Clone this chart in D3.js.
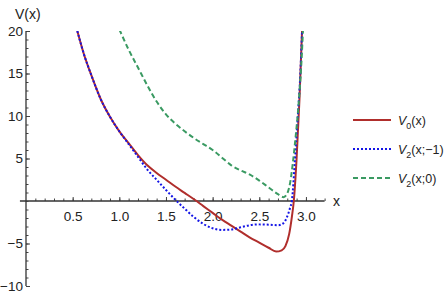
<!DOCTYPE html>
<html>
<head>
<meta charset="utf-8">
<script src="https://cdnjs.cloudflare.com/ajax/libs/d3/7.8.5/d3.min.js"></script>
<style>
body { margin: 0; background: #fff; }
text { font-family: "Liberation Sans", Arial, sans-serif; fill: #222; }
</style>
</head>
<body>
<script>
var w = 447;
var h = 300;

// data
var xV0 = [0.55, 0.62, 0.70, 0.80, 0.90, 1.00, 1.10, 1.20, 1.30, 1.40, 1.50, 1.60, 1.70, 1.80, 1.90, 2.00, 2.10, 2.20, 2.30, 2.40, 2.50, 2.60, 2.68, 2.74, 2.78, 2.82, 2.85, 2.87, 2.90, 2.93, 2.96];
var yV0 = [20.0, 17.3, 14.8, 12.0, 9.9, 8.2, 6.8, 5.4, 4.2, 3.3, 2.5, 1.7, 0.95, 0.2, -0.6, -1.4, -2.2, -2.9, -3.6, -4.3, -4.9, -5.5, -5.95, -5.8, -5.3, -3.9, -1.8, 0.0, 5.0, 11.8, 20.5];

var xV2m = [0.55, 0.62, 0.70, 0.80, 0.90, 1.00, 1.10, 1.20, 1.30, 1.40, 1.50, 1.60, 1.70, 1.80, 1.90, 2.00, 2.10, 2.20, 2.30, 2.40, 2.50, 2.60, 2.70, 2.76, 2.80, 2.83, 2.85, 2.88, 2.91, 2.94, 2.96];
var yV2m = [20.0, 17.3, 14.8, 12.0, 9.9, 8.2, 6.7, 5.2, 3.7, 2.5, 1.3, 0.15, -0.9, -1.9, -2.7, -3.2, -3.4, -3.35, -3.1, -2.85, -2.75, -2.78, -2.85, -2.6, -1.8, -0.8, 0.1, 4.5, 9.5, 15.0, 20.5];

var xV20 = [1.00, 1.10, 1.20, 1.30, 1.40, 1.50, 1.60, 1.70, 1.80, 1.90, 2.00, 2.10, 2.20, 2.30, 2.40, 2.50, 2.60, 2.70, 2.76, 2.80, 2.83, 2.86, 2.89, 2.92, 2.95, 2.97];
var yV20 = [20.2, 17.8, 15.7, 13.6, 11.7, 10.2, 9.1, 8.2, 7.4, 6.7, 6.0, 5.1, 4.2, 3.6, 3.1, 2.4, 1.6, 0.8, 0.45, 0.9, 2.1, 4.5, 7.6, 11.2, 16.0, 20.5];

var xTicks = [0.5, 1.0, 1.5, 2.0, 2.5, 3.0];
var yTicks = [-10, -5, 5, 10, 15, 20];

var series = [
    {name: "0", arg: "(x)", xs: xV0, ys: yV0, color: "#b02e2c", dash: null},
    {name: "2", arg: "(x;\u22121)", xs: xV2m, ys: yV2m, color: "#1414e6", dash: "2,2"},
    {name: "2", arg: "(x;0)", xs: xV20, ys: yV20, color: "#3a9a62", dash: "5,3"}
];

var x = d3.scaleLinear().domain([0, 3.2]).range([26, 324.6]);
var y = d3.scaleLinear().domain([-10, 20]).range([286, 31]);

var svg = d3.select("body")
    .append("svg")
    .attr("width", w)
    .attr("height", h);

svg.append("defs").append("clipPath")
    .attr("id", "clip")
    .append("rect")
    .attr("x", x(0))
    .attr("y", y(20))
    .attr("width", x(3.2) - x(0))
    .attr("height", y(-10) - y(20));

// x axis: minor ticks then major ticks with labels
var gx = svg.append("g").attr("transform", "translate(0," + y(0) + ")");
gx.append("g")
    .call(d3.axisBottom(x).tickValues(d3.range(1, 33).map(function(i){ return i / 10; })).tickSize(-2.5).tickFormat(""))
    .call(function(g){ g.select(".domain").remove(); });
gx.append("g")
    .attr("class", "major")
    .call(d3.axisBottom(x).tickValues(xTicks).tickSize(-4).tickPadding(10).tickFormat(d3.format(".1f")))
    .call(function(g){ g.select(".domain").remove(); });
gx.append("line")
    .attr("x1", x(-0.065)).attr("x2", x(3.2))
    .attr("stroke", "#333").attr("stroke-width", 1.3);

// y axis
var gy = svg.append("g").attr("transform", "translate(" + x(0) + ",0)");
gy.append("g")
    .call(d3.axisLeft(y).tickValues(d3.range(-10, 21)).tickSize(-2.5).tickFormat(""))
    .call(function(g){ g.select(".domain").remove(); });
gy.append("g")
    .attr("class", "major")
    .call(d3.axisLeft(y).tickValues(yTicks).tickSize(-4).tickPadding(3).tickFormat(function(d){ return d < 0 ? "\u2212" + Math.abs(d) : d; }))
    .call(function(g){ g.select(".domain").remove(); });
gy.append("line")
    .attr("y1", y(-10)).attr("y2", y(20))
    .attr("stroke", "#333").attr("stroke-width", 1.3);

svg.selectAll(".tick line").attr("stroke", "#444");
svg.selectAll(".tick text").attr("font-size", 13.5).attr("font-family", "Liberation Sans, Arial, sans-serif").attr("fill", "#222");

// axis labels
svg.append("text").attr("x", 15).attr("y", 19).attr("font-size", 14).text("V(x)");
svg.append("text").attr("x", 333).attr("y", y(0) + 5).attr("font-size", 14).text("x");

// curves
var line = d3.line()
    .x(function(d){ return x(d[0]); })
    .y(function(d){ return y(d[1]); })
    .curve(d3.curveMonotoneX);

var plot = svg.append("g").attr("clip-path", "url(#clip)");
series.forEach(function(s){
    var pts = s.xs.map(function(v, i){ return [v, s.ys[i]]; });
    plot.append("path")
        .attr("d", line(pts))
        .attr("fill", "none")
        .attr("stroke", s.color)
        .attr("stroke-width", 2)
        .attr("stroke-dasharray", s.dash);
});

// legend
var legend = svg.append("g");
series.forEach(function(s, i){
    var ly = 120 + i * 29;
    legend.append("line")
        .attr("x1", 353).attr("x2", 391)
        .attr("y1", ly).attr("y2", ly)
        .attr("stroke", s.color)
        .attr("stroke-width", 2)
        .attr("stroke-dasharray", s.dash);
    var t = legend.append("text").attr("x", 398).attr("y", ly + 5).attr("font-size", 12.5);
    t.append("tspan").attr("font-style", "italic").text("V");
    t.append("tspan").attr("font-size", 9).attr("dy", 4).text(s.name);
    t.append("tspan").attr("dy", -4).text(s.arg);
});
</script>
</body>
</html>
